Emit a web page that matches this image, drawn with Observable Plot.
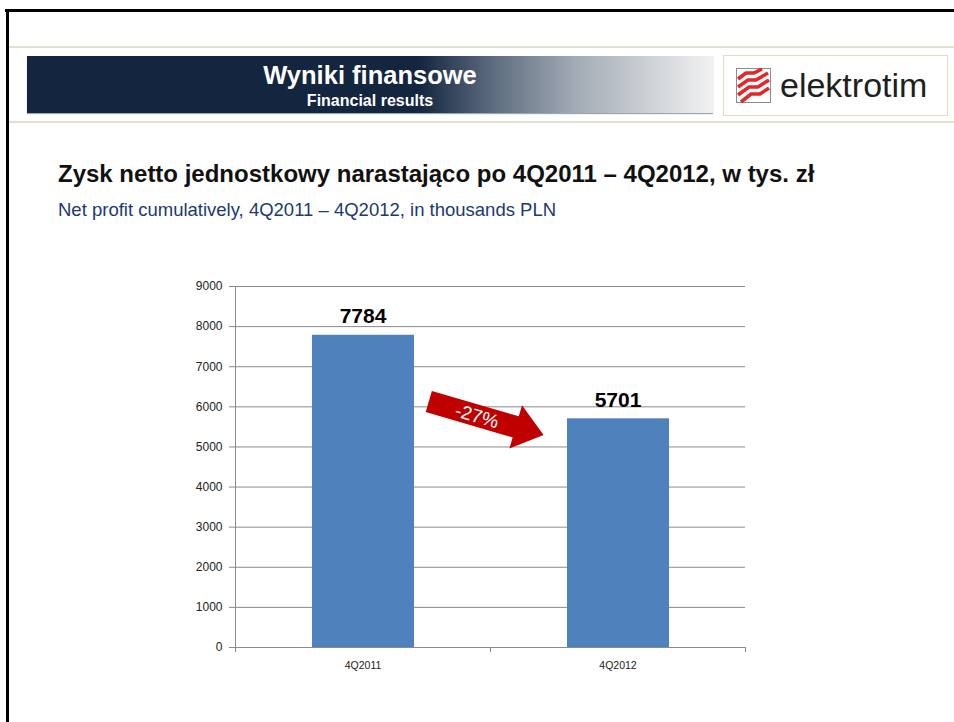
<!DOCTYPE html>
<html>
<head>
<meta charset="utf-8">
<script src="https://cdn.jsdelivr.net/npm/d3@7"></script>
<script src="https://cdn.jsdelivr.net/npm/@observablehq/plot@0.6"></script>
<style>
  html, body { margin: 0; padding: 0; background: #fff; }
  #page { position: relative; width: 954px; height: 722px; overflow: hidden; font-family: "Liberation Sans", Arial, sans-serif; }
  .abs { position: absolute; white-space: nowrap; }
</style>
</head>
<body>
<div id="page">
  <div class="abs" style="left:5px;top:9px;width:949px;height:3px;background:#000;"></div>
  <div class="abs" style="left:6px;top:9px;width:3px;height:713px;background:#000;"></div>
  <div class="abs" style="left:9px;top:46px;width:945px;height:2px;background:#E4E0CE;"></div>
  <div class="abs" style="left:9px;top:121px;width:945px;height:2px;background:#E4E0CE;"></div>

  <div class="abs" style="left:27px;top:56px;width:686px;height:57px;background:linear-gradient(to right,#13253F 0%,#13253F 57%,#5E6C80 68%,#A3ABB5 80%,#F2F2F2 100%);box-shadow:0 1px 1px #9aa;"></div>
  <div class="abs" style="left:170px;top:63px;width:400px;text-align:center;color:#fff;font-weight:bold;font-size:25.5px;line-height:25.5px;">Wyniki finansowe</div>
  <div class="abs" style="left:170px;top:93px;width:400px;text-align:center;color:#fff;font-weight:bold;font-size:16px;line-height:16px;">Financial results</div>

  <div class="abs" style="left:723px;top:55px;width:223px;height:59px;border:1px solid #E0DCC8;background:#fff;"></div>
  <svg class="abs" style="left:736px;top:68px;" width="35" height="35" viewBox="0 0 35 35">
    <rect x="0.5" y="0.5" width="34" height="34" fill="#fff" stroke="#8c8c8c"/>
    <g stroke="#E3262A" stroke-width="3.6" fill="none" stroke-linejoin="miter">
      <path d="M2,11 L10,5 L18,5 L26,1"/>
      <path d="M2,19 L12,12 L20,12 L32,5"/>
      <path d="M2,27 L13,19 L22,19 L33,12"/>
      <path d="M5,34 L15,26 L24,26 L33,20"/>
    </g>
  </svg>
  <div class="abs" style="left:780px;top:68px;color:#1f1f1f;font-size:34px;line-height:34px;">elektrotim</div>

  <div class="abs" style="left:58px;top:162px;color:#111;font-weight:bold;font-size:24px;line-height:24px;">Zysk netto jednostkowy narastająco po 4Q2011 – 4Q2012, w tys. zł</div>
  <div class="abs" style="left:58px;top:201px;color:#1B3A70;font-size:18.5px;line-height:18.5px;">Net profit cumulatively, 4Q2011 – 4Q2012, in thousands PLN</div>

  <div id="chart" class="abs" style="left:0;top:250px;"></div>
</div>
<script>
// ---- data ----
const categories = ["4Q2011", "4Q2012"];
const values = [7784, 5701];
const yTicks = [0, 1000, 2000, 3000, 4000, 5000, 6000, 7000, 8000, 9000];
// change arrow annotation anchors, in chart units (category index, value)
const arrowFrom = [0.76, 6120];
const arrowTo = [1.21, 5285];

const data = categories.map((c, i) => ({category: c, i, value: values[i]}));
const change = Math.round((values[1] - values[0]) / values[0] * 100);
const changeLabel = `${change}%`;

function changeArrow(index, {x, y}) {
  const x0 = x(arrowFrom[0]), y0 = y(arrowFrom[1]);
  const x1 = x(arrowTo[0]), y1 = y(arrowTo[1]);
  const L = Math.hypot(x1 - x0, y1 - y0);
  const ang = Math.atan2(y1 - y0, x1 - x0) * 180 / Math.PI;
  const sw = 11, hw = 22.5, hl = 29;
  const g = d3.create("svg:g").attr("transform", `translate(${x0},${y0}) rotate(${ang})`);
  g.append("path")
    .attr("d", `M0,${-sw}L${L - hl},${-sw}L${L - hl},${-hw}L${L},0L${L - hl},${hw}L${L - hl},${sw}L0,${sw}Z`)
    .attr("fill", "#C00000");
  g.append("text")
    .attr("x", L * 0.42).attr("y", 0).attr("dy", "0.36em")
    .attr("text-anchor", "middle").attr("fill", "#fff")
    .attr("font-size", 19)
    .text(changeLabel);
  return g.node();
}

const chart = Plot.plot({
  width: 954,
  height: 472,
  marginLeft: 235,
  marginRight: 209,
  marginTop: 36,
  marginBottom: 75,
  style: {fontFamily: "'Liberation Sans', Arial, sans-serif", fontSize: "11px", color: "#222", background: "transparent", overflow: "visible"},
  x: {type: "linear", domain: [0, 2], axis: null},
  y: {domain: [0, 9000], axis: null},
  marks: [
    Plot.ruleY(yTicks, {stroke: "#8A8A8A", strokeWidth: 1}),
    Plot.ruleX([0], {stroke: "#8A8A8A"}),
    Plot.rectY(data, {x1: "i", x2: d => d.i + 1, y: "value", insetLeft: 77, insetRight: 76, fill: "#4F81BD"}),
    Plot.axisY({ticks: yTicks, tickFormat: d => String(d), tickSize: 6, tickPadding: 7, stroke: "#8A8A8A", fontSize: 12, fill: "#222", label: null}),
    Plot.axisX({ticks: [0, 1, 2], tickSize: 5, tickFormat: () => "", stroke: "#8A8A8A", label: null}),
    Plot.axisX({ticks: data.map(d => d.i + 0.5), tickFormat: (t) => categories[Math.floor(t)], tickSize: 0, tickPadding: 14, fontSize: 10.5, fill: "#222", label: null}),
    Plot.text(data, {x: d => d.i + 0.5, y: "value", text: d => String(d.value), lineAnchor: "bottom", dy: -12, fontSize: 21, fontWeight: "bold", fill: "#000"}),
    changeArrow
  ]
});
document.getElementById("chart").appendChild(chart);
</script>
</body>
</html>
